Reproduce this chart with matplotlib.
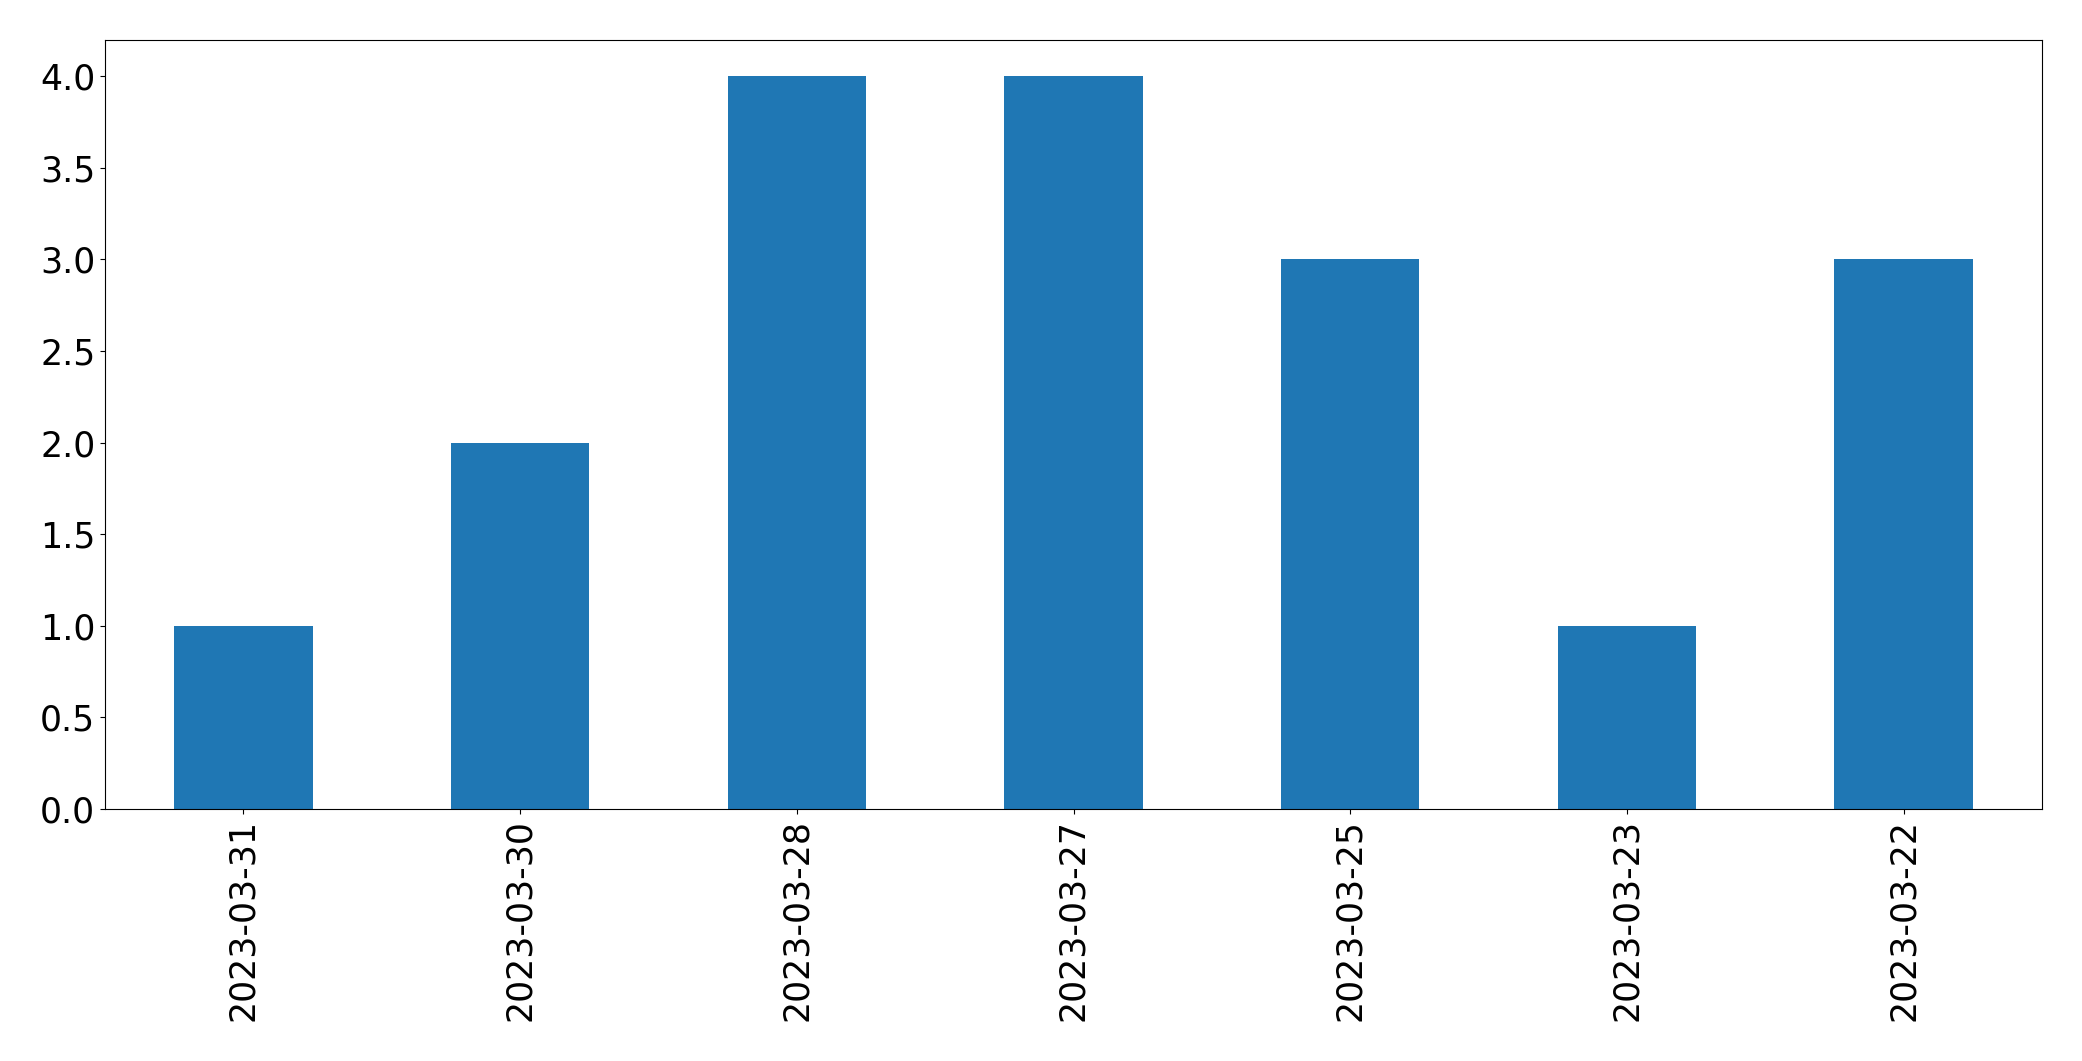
import numpy as np
import matplotlib
matplotlib.use('Agg')
import matplotlib.pyplot as plt

dates = ['2023-03-31', '2023-03-30', '2023-03-28', '2023-03-27',
         '2023-03-25', '2023-03-23', '2023-03-22']
counts = [1, 2, 4, 4, 3, 1, 3]

fig = plt.figure(figsize=(20.82, 10.61), dpi=100)
ax = fig.add_axes([105 / 2082, (1061 - 809) / 1061,
                   (2042 - 105) / 2082, (809 - 39.5) / 1061])

x = np.arange(len(dates))
ax.bar(x, counts, width=0.5, color='#1f77b4')
ax.set_xlim(-0.5, len(dates) - 0.5)
ax.set_ylim(0, max(counts) * 1.05)
ax.set_xticks(x)
ax.set_xticklabels(dates, rotation=90)
ax.set_yticks(np.arange(0, 4.01, 0.5))
ax.tick_params(labelsize=25)

fig.savefig('out.png', dpi=100)
